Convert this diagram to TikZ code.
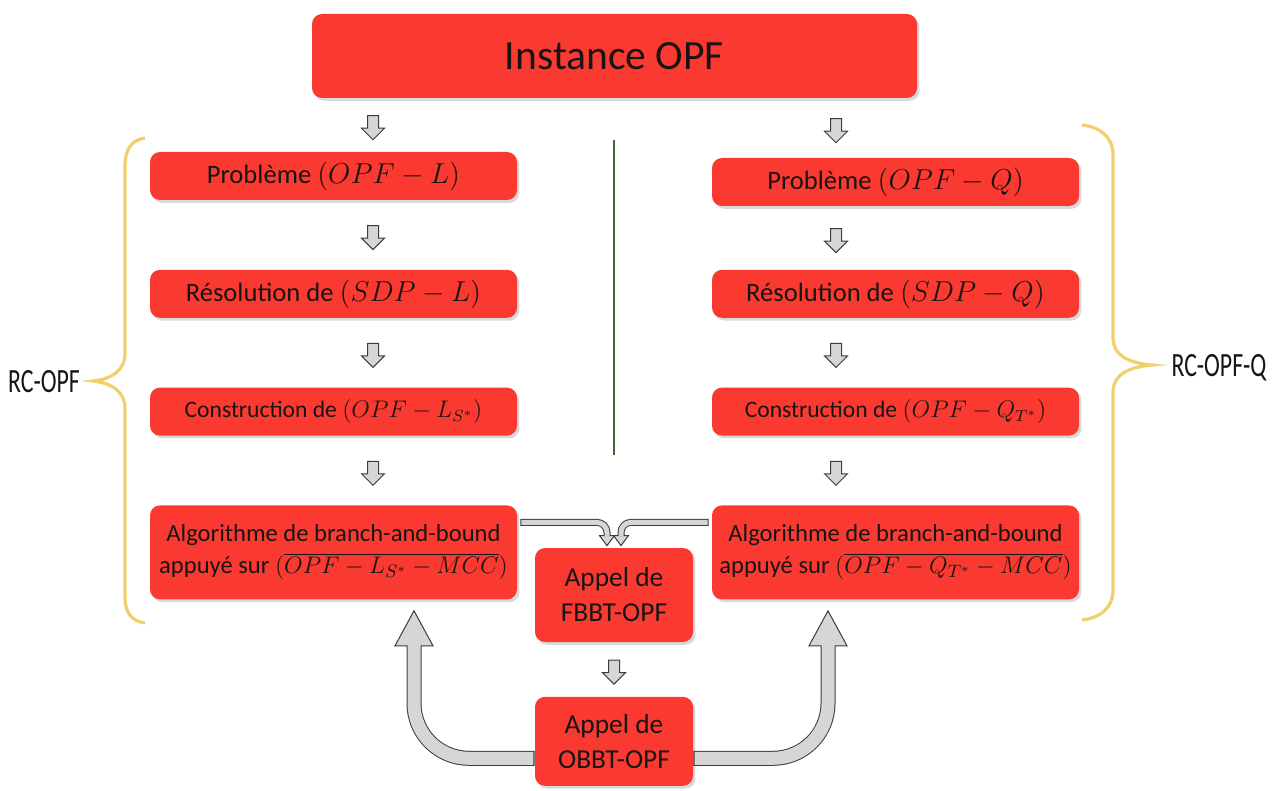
\documentclass[tikz,border=0pt]{standalone}
\usepackage{fontspec}
\setmainfont{Carlito}
\usetikzlibrary{positioning,calc,shapes.arrows,shadows}
\definecolor{boxred}{RGB}{250,58,48}
\definecolor{boxtext}{RGB}{25,20,20}
\definecolor{arrowfill}{RGB}{214,214,214}
\definecolor{arrowline}{RGB}{60,60,60}
\definecolor{bracecol}{RGB}{241,207,110}
\definecolor{sepcol}{RGB}{70,100,50}

\begin{document}
\begin{tikzpicture}[x=0.5pt, y=-0.5pt, node distance=34.5pt,
boxnode/.style={rectangle, rounded corners=5pt, fill=boxred, text=boxtext, align=center, inner sep=0pt, drop shadow={shadow xshift=1.2pt, shadow yshift=-1.4pt, opacity=0.3}},
topnode/.style={boxnode, minimum width=302.5pt, minimum height=42pt, font=\fontsize{20.8}{24}\selectfont},
stepnode/.style={boxnode, minimum width=183.5pt, minimum height=24pt, font=\fontsize{13.3}{16}\selectfont},
algonode/.style={boxnode, minimum width=183.5pt, minimum height=47pt, font=\fontsize{12.3}{16}\selectfont},
callnode/.style={boxnode, minimum width=79pt, minimum height=47pt, font=\fontsize{13.7}{17.5}\selectfont},
downarrow/.style={single arrow, draw=arrowline, fill=arrowfill, rotate=-90, minimum height=12pt, inner sep=2.5pt, single arrow head extend=3pt, line width=0.5pt},
sidelabel/.style={font=\fontsize{17}{20}\selectfont, text=boxtext},
bracestyle/.style={draw=bracecol, line width=1.6pt},
bigout/.style={draw=arrowline, line width=7.5pt, rounded corners=27.5pt},
bigin/.style={draw=arrowfill, line width=6.5pt, rounded corners=27.5pt},
thinout/.style={draw=arrowline, line width=3.5pt, rounded corners=5pt},
thinin/.style={draw=arrowfill, line width=2.5pt, rounded corners=5pt},
headstyle/.style={fill=arrowfill, draw=arrowline, line width=0.5pt},
]
\useasboundingbox (0,0) rectangle (1279,791);

%Nodes
\node[topnode]   (instance) at (614.5,56) {Instance OPF};
\node[stepnode]  (probL)    at (333.5,176) {Problème $(OPF-L)$};
\node[stepnode]  (resL)     [below=of probL] {Résolution de $(SDP-L)$};
\node[stepnode, font=\fontsize{11.8}{14}\selectfont] (consL) [below=of resL] {Construction de $(OPF-L_{S^*})$};
\node[algonode]  (algL)     [below=of consL] {Algorithme de branch-and-bound\\appuyé sur $(\overline{OPF-L_{S^*}-MCC})$};

\node[stepnode]  (probQ)    at (895.5,182) {Problème $(OPF-Q)$};
\node[stepnode]  (resQ)     at (resL -| probQ) {Résolution de $(SDP-Q)$};
\node[stepnode, font=\fontsize{11.8}{14}\selectfont] (consQ) at (consL -| probQ) {Construction de $(OPF-Q_{T^*})$};
\node[algonode]  (algQ)     at (algL -| probQ) {Algorithme de branch-and-bound\\appuyé sur $(\overline{OPF-Q_{T^*}-MCC})$};

\node[callnode]  (fbbt)     at (614,595) {Appel de\\FBBT-OPF};
\node[callnode, minimum height=44.5pt] (obbt) [below=27pt of fbbt] {Appel de\\OBBT-OPF};

\node[sidelabel] (rcopf)  at (44,382)   {\scalebox{0.7}[1]{RC-OPF}};
\node[sidelabel] (rcopfq) at (1219,368) {\scalebox{0.7}[1]{RC-OPF-Q}};

%Small arrows
\node[downarrow] (aL1) at ($(probL.north)!.5!(probL.north |- instance.south) + (39.5,0)$) {};
\node[downarrow] (aL2) at ($(probL.south)!.5!(resL.north) + (39.5,0)$) {};
\node[downarrow] (aL3) at ($(resL.south)!.5!(consL.north) + (39.5,0)$) {};
\node[downarrow] (aL4) at ($(consL.south)!.5!(algL.north) + (39.5,0)$) {};
\node[downarrow] (aQ1) at ($(probQ.north)!.5!(probQ.north |- instance.south) + (-59.5,0)$) {};
\node[downarrow] (aQ2) at ($(probQ.south)!.5!(resQ.north) + (-59.5,0)$) {};
\node[downarrow] (aQ3) at ($(resQ.south)!.5!(consQ.north) + (-59.5,0)$) {};
\node[downarrow] (aQ4) at ($(consQ.south)!.5!(algQ.north) + (-59.5,0)$) {};
\node[downarrow] (aM)  at ($(fbbt.south)!.5!(obbt.north)$) {};

%Separator and braces
\draw[sepcol, line width=0.6pt] (614,140) -- (614,455);
\draw[bracestyle] (145,138) .. controls (131,140) and (125,150) .. (125,166) -- (125,354)
  .. controls (125,370) and (112,379) .. (93,381) .. controls (112,383) and (125,392) .. (125,408)
  -- (125,597) .. controls (125,612) and (131,621) .. (145,623);
\draw[bracestyle] (1082,125) .. controls (1100,127) and (1113,137) .. (1113,155) -- (1113,338)
  .. controls (1113,355) and (1128,363) .. (1152,365) .. controls (1128,367) and (1113,375) .. (1113,392)
  -- (1113,590) .. controls (1113,608) and (1100,618) .. (1082,620);

%Merging arrows
\coordinate (tipML) at ([xshift=-3.5pt, yshift=1pt]fbbt.north);
\coordinate (tipMR) at ([xshift=3.5pt, yshift=1pt]fbbt.north);
\draw[thinout] ([xshift=1.5pt, yshift=15pt]algL.east) -| ([yshift=5pt]tipML);
\filldraw[headstyle] (tipML) -- ++(-7.5,-10) -- ++(15,0) -- cycle;
\draw[thinin] ([xshift=2pt, yshift=15pt]algL.east) -| ([yshift=4.6pt]tipML);
\draw[thinout] ([xshift=-1.5pt, yshift=15pt]algQ.west) -| ([yshift=5pt]tipMR);
\filldraw[headstyle] (tipMR) -- ++(-7.5,-10) -- ++(15,0) -- cycle;
\draw[thinin] ([xshift=-2pt, yshift=15pt]algQ.west) -| ([yshift=4.6pt]tipMR);

%Big arrows
\coordinate (tipL) at ([xshift=40.25pt, yshift=-5.5pt]algL.south);
\coordinate (tipR) at ([xshift=-33.75pt, yshift=-5.5pt]algQ.south);
\draw[bigout] ([yshift=-8.5pt]obbt.west) -| ([yshift=-17.5pt]tipL);
\filldraw[headstyle] (tipL) -- ++(-19,35) -- ++(38,0) -- cycle;
\draw[bigin] ([xshift=-0.6pt, yshift=-8.5pt]obbt.west) -| ([yshift=-16.8pt]tipL);
\draw[bigout] ([yshift=-8.5pt]obbt.east) -| ([yshift=-17.5pt]tipR);
\filldraw[headstyle] (tipR) -- ++(-19,35) -- ++(38,0) -- cycle;
\draw[bigin] ([xshift=0.6pt, yshift=-8.5pt]obbt.east) -| ([yshift=-16.8pt]tipR);
\end{tikzpicture}
\end{document}
